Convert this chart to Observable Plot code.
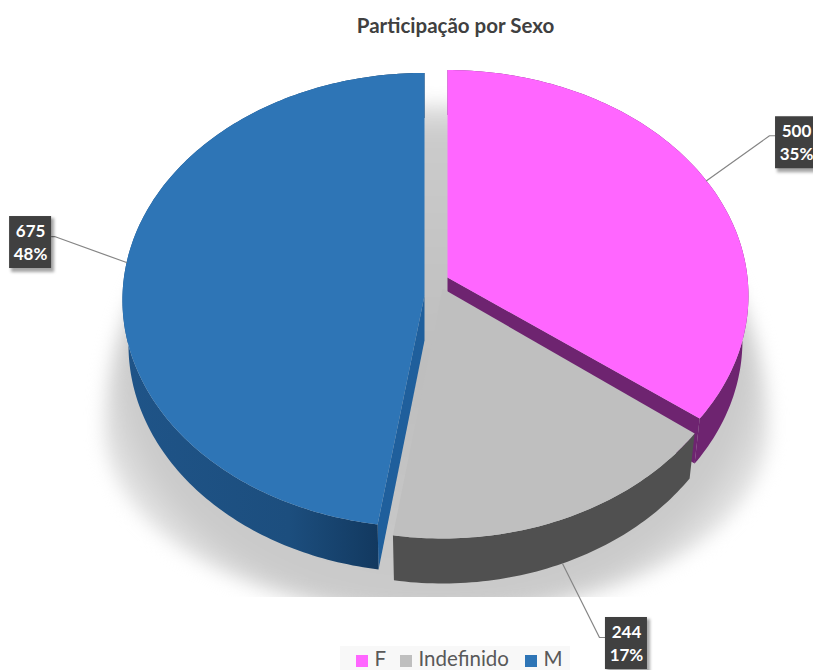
<!DOCTYPE html>
<html><head><meta charset="utf-8">
<script src="https://cdn.jsdelivr.net/npm/d3@7"></script>
<script src="https://cdn.jsdelivr.net/npm/@observablehq/plot@0.6"></script>
<style>html,body{margin:0;padding:0;background:#fff}svg{display:block}</style>
</head><body><div id="c"></div>
<script>
const categories = ["F", "Indefinido", "M"];
const counts = [500, 244, 675];
const chartTitle = "Participação por Sexo";

// Layout (pixels), not data
const W = 813, H = 670, DEPTH = 45, BOTTOM_SCALE = 0.98;
const discs = [
  {cx: 447, cy: 277, rx: 300, ry: 224, k: 0.08},
  {cx: 442, cy: 288, rx: 300, ry: 230, k: 0.08},
  {cx: 424, cy: 295, rx: 302, ry: 227, k: 0.02}
];
const topColors = ["#FF66FF", "#BFBFBF", "#2E75B6"];
const leaderShift = [0, 0, 4];            // degrees along rim
const leaderDepth = [0, DEPTH, 0];
const labelOffsetX = [90, 64, -96];
const labelOffsetY = [-38, 80, -20];
const elbowInset = [-27, -27, 24];
const elbowDy = [-7, -6, -6];

const pies = d3.pie().sort(null).value(d => d)(counts);
const RAD = Math.PI / 180;
function rim(d, a, depth = 0) {
  const u = Math.sin(a), v = -Math.cos(a), p = 1 / (1 - d.k * v);
  const f = depth ? BOTTOM_SCALE : 1;
  return {x: d.cx + d.rx * u * p * f, y: d.cy + d.ry * v * p + depth};
}
function arc(d, a0, a1, depth = 0) {
  const n = Math.max(2, Math.ceil((a1 - a0) / RAD));
  return d3.range(n + 1).map(i => rim(d, a0 + (a1 - a0) * i / n, depth));
}
const face = (d, a0, a1) => [{x: d.cx, y: d.cy}, ...arc(d, a0, a1)];
const side = (d, a0, a1) => [...arc(d, a0, a1), ...arc(d, a0, a1, DEPTH).reverse()];
function wall(d, a) {
  const o = rim(d, a), b = rim(d, a, DEPTH);
  return [{x: d.cx, y: d.cy}, o, b, {x: d.cx, y: d.cy + DEPTH}];
}
const poly = (pts, fill, extra = {}) =>
  Plot.line(pts, {x: "x", y: "y", fill, stroke: "none", curve: "linear", ...extra});

const [pF, pI, pM] = pies;
const [dF, dI, dM] = discs;
const total = d3.sum(counts);

// Shadow under the pie: taller above its widest line than below it
const shadowUpper = {cx: 436, cy: 430, rx: 332, ry: 327, k: 0};
const shadowLower = {cx: 436, cy: 430, rx: 332, ry: 185, k: 0};
const shadow = [
  ...arc(shadowUpper, -Math.PI / 2, Math.PI / 2),
  ...arc(shadowLower, Math.PI / 2, 3 * Math.PI / 2)
];

// Labels
const labels = pies.map((p, i) => {
  const d = discs[i], mid = (p.startAngle + p.endAngle) / 2 + leaderShift[i] * RAD;
  const a = rim(d, mid, leaderDepth[i]);
  const x = a.x + labelOffsetX[i], y = a.y + labelOffsetY[i];
  return {i, ax: a.x, ay: a.y, x, y, value: counts[i], pct: d3.format(".0%")(counts[i] / total)};
});
const leaders = labels.flatMap(l => {
  const ex = l.x + elbowInset[l.i], ey = l.y + elbowDy[l.i];
  const edge = l.x + Math.sign(elbowInset[l.i]) * 21;
  return [{i: l.i, x: l.ax, y: l.ay}, {i: l.i, x: ex, y: ey}, {i: l.i, x: edge, y: ey}];
});

// Legend
const legendX = [356, 400, 525];
const legend = categories.map((c, i) => ({c, x: legendX[i], color: topColors[i]}));

const defs = () => {
  const s = d3.create("svg:defs");
  const g = s.append("linearGradient").attr("id", "blueSide");
  g.append("stop").attr("offset", "0%").attr("stop-color", "#1F5488");
  g.append("stop").attr("offset", "55%").attr("stop-color", "#1C4E7E");
  g.append("stop").attr("offset", "100%").attr("stop-color", "#0D2E50");
  const h = s.append("radialGradient").attr("id", "shadowFill").attr("cy", "0.52").attr("r", "0.56");
  h.append("stop").attr("offset", "0%").attr("stop-color", "#bdbdbd");
  h.append("stop").attr("offset", "82%").attr("stop-color", "#cbcbcb");
  h.append("stop").attr("offset", "100%").attr("stop-color", "#f4f4f4");
  return s.node();
};

const chart = Plot.plot({
  width: W, height: H, margin: 0,
  x: {domain: [0, W], range: [0, W], axis: null},
  y: {domain: [0, H], range: [0, H], axis: null},
  marks: [
    defs,
    poly(shadow, "url(#shadowFill)", {imageFilter: "blur(9px)"}),
    Plot.rect([{x1: 0, x2: W, y1: 597, y2: H}], {x1: "x1", x2: "x2", y1: "y1", y2: "y2", fill: "white", inset: 0}),
    Plot.rect([{x1: 340, x2: 570, y1: 646, y2: H}], {x1: "x1", x2: "x2", y1: "y1", y2: "y2", fill: "#f8f8f8"}),
    // walls and sides
    poly(wall(dF, pF.endAngle), "#6E2470"),
    poly(wall(dM, pM.startAngle), "#1F5F9C"),
    poly(side(dM, pM.startAngle, pM.endAngle), "url(#blueSide)"),
    poly(side(dI, pI.startAngle, pI.endAngle), "#505050"),
    poly(side(dF, pF.startAngle, pF.endAngle), "#6E2470"),
    // top faces
    poly(face(dI, pI.startAngle, pI.endAngle), topColors[1]),
    poly(face(dF, pF.startAngle, pF.endAngle), topColors[0]),
    poly(face(dM, pM.startAngle, pM.endAngle), topColors[2]),
    // leaders
    Plot.line(leaders, {x: "x", y: "y", z: "i", stroke: "#858585", strokeWidth: 1.2, curve: "linear"}),
    // label boxes
    Plot.rect(labels, {x1: d => d.x - 19, x2: d => d.x + 24, y1: d => d.y - 24, y2: d => d.y + 30, fill: "#000", fillOpacity: 0.35, imageFilter: "blur(1.5px)"}),
    Plot.rect(labels, {x1: d => d.x - 21, x2: d => d.x + 21, y1: d => d.y - 26, y2: d => d.y + 26, fill: "#404040"}),
    Plot.text(labels, {x: "x", y: d => d.y - 11, text: d => String(d.value), fill: "white", fontSize: 17, fontWeight: 700, fontFamily: "Lato"}),
    Plot.text(labels, {x: "x", y: d => d.y + 12, text: "pct", fill: "white", fontSize: 17, fontWeight: 700, fontFamily: "Lato"}),
    // legend
    Plot.rect(legend, {x1: "x", x2: d => d.x + 12, y1: () => 655, y2: () => 667, fill: "color"}),
    Plot.text(legend, {x: d => d.x + 18, y: () => 658.5, text: "c", textAnchor: "start", fill: "#595959", fontSize: 20.5, fontFamily: "Lato"}),
    // title
    Plot.text([chartTitle], {x: () => 455, y: () => 26, text: d => d, fill: "#404040", fontSize: 20.5, fontWeight: 700, fontFamily: "Lato"})
  ]
});
document.getElementById("c").append(chart);
</script></body></html>
